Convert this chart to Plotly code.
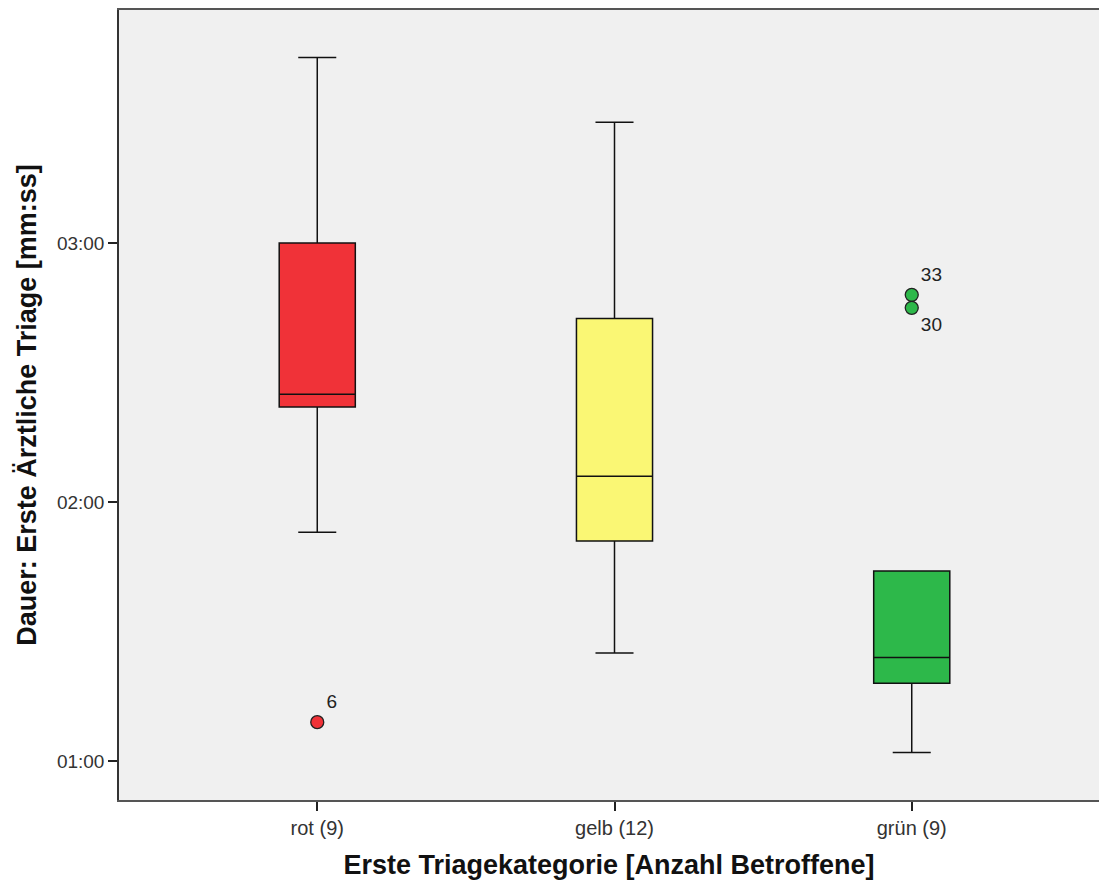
import plotly.graph_objects as go

categories = ["rot (9)", "gelb (12)", "grün (9)"]
colors = ["#F03238", "#FAF774", "#2DB84A"]
# values in seconds
lower_whisker = [113, 85, 62]
q1 = [142, 111, 78]
median = [145, 126, 84]
q3 = [180, 162.5, 104]
upper_whisker = [223, 208, 104]

outlier_cat = [0, 2, 2]
outlier_val = [69, 168, 165]
outlier_label = ["6", "33", "30"]
outlier_pos = ["top right", "top right", "bottom right"]

tick_vals = [60, 120, 180]
tick_text = ["01:00", "02:00", "03:00"]

FONT = "Liberation Sans, Arial"

fig = go.Figure()
for i, c in enumerate(categories):
    fig.add_trace(go.Box(
        x=[i], q1=[q1[i]], median=[median[i]], q3=[q3[i]],
        lowerfence=[lower_whisker[i]], upperfence=[upper_whisker[i]],
        width=0.256, whiskerwidth=0.5, boxpoints=False,
        fillcolor=colors[i], line=dict(color="#111", width=1.5),
        showlegend=False, hoverinfo="skip",
    ))

fig.add_trace(go.Scatter(
    x=outlier_cat, y=outlier_val, mode="markers+text",
    text=outlier_label, textposition=outlier_pos,
    textfont=dict(family=FONT, size=19, color="#222"),
    marker=dict(size=13, color=[colors[k] for k in outlier_cat],
                line=dict(color="#222", width=1.3)),
    showlegend=False, hoverinfo="skip",
))

fig.update_layout(
    width=1099, height=883,
    margin=dict(l=119, r=0, t=10, b=83),
    plot_bgcolor="#F0F0F0", paper_bgcolor="white",
    font=dict(family=FONT, color="#222"),
)
fig.update_xaxes(
    range=[-0.667, 2.63], tickvals=[0, 1, 2], ticktext=categories,
    ticks="outside", ticklen=9, tickcolor="#222", tickwidth=1.5,
    tickfont=dict(size=20, color="#333"),
    showgrid=False, zeroline=False,
    showline=True, linecolor="#555", linewidth=2, mirror=True,
    title=dict(text="<b>Erste Triagekategorie [Anzahl Betroffene]</b>",
               font=dict(size=27, color="#111"), standoff=17),
)
fig.update_yaxes(
    range=[50.97, 234], tickvals=tick_vals, ticktext=tick_text,
    ticks="outside", ticklen=9, tickcolor="#222", tickwidth=1.5,
    tickfont=dict(size=19, color="#333"),
    showgrid=False, zeroline=False,
    showline=True, linecolor="#333", linewidth=1.5, mirror=False,
    title=dict(text="<b>Dauer: Erste Ärztliche Triage [mm:ss]</b>",
               font=dict(size=27, color="#111"), standoff=12),
)

fig.write_html("out.html")
